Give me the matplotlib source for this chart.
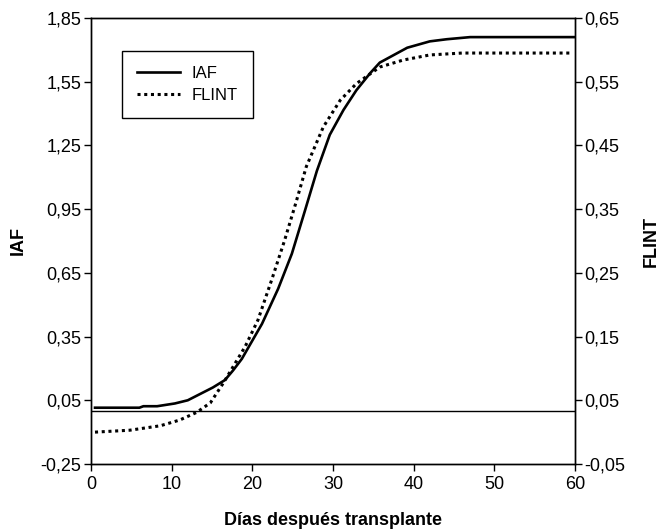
import matplotlib
matplotlib.use("Agg")
import matplotlib.pyplot as plt
from matplotlib.ticker import FuncFormatter

plt.rcParams['font.family'] = ['Liberation Sans', 'DejaVu Sans']

# IAF (left axis)
dias_iaf = [0.5, 6, 6.5, 8.2, 10.4, 12, 15.1, 16.6, 17.6, 18.7, 21.2, 23.2, 24.9,
            26.5, 28, 29.6, 31.3, 32.9, 34.6, 35.8, 39.2, 42, 44.1, 47, 60]
iaf = [0.015, 0.015, 0.022, 0.022, 0.035, 0.05, 0.11, 0.145, 0.19, 0.245, 0.41, 0.575, 0.74,
       0.94, 1.13, 1.3, 1.417, 1.51, 1.59, 1.64, 1.71, 1.74, 1.75, 1.76, 1.76]

# FLINT (right axis)
dias_flint = [0.5, 4.8, 8.6, 11, 13.1, 14.8, 16.4, 19.1, 20.7, 22.4, 24, 25.4,
              26.7, 28.8, 30.9, 32.9, 35.8, 38.7, 42, 46, 59.4]
flint = [0.0, 0.003, 0.01, 0.019, 0.031, 0.046, 0.077, 0.134, 0.176, 0.239, 0.301, 0.36,
         0.417, 0.479, 0.521, 0.547, 0.573, 0.584, 0.592, 0.595, 0.595]

iaf_ticks = [-0.25, 0.05, 0.35, 0.65, 0.95, 1.25, 1.55, 1.85]
flint_ticks = [-0.05, 0.05, 0.15, 0.25, 0.35, 0.45, 0.55, 0.65]
x_ticks = [0, 10, 20, 30, 40, 50, 60]

coma = FuncFormatter(lambda v, p: f"{v:.2f}".replace('.', ','))

fig = plt.figure(figsize=(6.65, 5.31), dpi=100)
ax = fig.add_axes([0.1368, 0.1262, 0.7279, 0.8399])
ax2 = ax.twinx()

l1, = ax.plot(dias_iaf, iaf, color='black', lw=1.9, label='IAF')
ax.axhline(0, color='black', lw=1.0)
l2, = ax2.plot(dias_flint, flint, color='black', lw=2.2, linestyle=(0, (1, 1.2)), label='FLINT')

ax.set_xlim(0, 60)
ax.set_ylim(-0.25, 1.85)
ax2.set_ylim(-0.05, 0.65)
ax.set_xticks(x_ticks)
ax.set_yticks(iaf_ticks)
ax2.set_yticks(flint_ticks)
ax.yaxis.set_major_formatter(coma)
ax2.yaxis.set_major_formatter(coma)

for a in (ax, ax2):
    a.tick_params(direction='out', length=5, width=1, labelsize=13, pad=2)
    for s in a.spines.values():
        s.set_linewidth(1.0)
ax.tick_params(axis='x', pad=4)

ax.set_xlabel("Días después transplante", fontsize=13, fontweight='bold', labelpad=13.5)
ax.set_ylabel("IAF", fontsize=13, fontweight='bold', labelpad=10)
ax2.set_ylabel("FLINT", fontsize=13, fontweight='bold', labelpad=12)

leg = ax.legend(handles=[l1, l2], loc='upper left', bbox_to_anchor=(0.064, 0.926),
                borderaxespad=0, fancybox=False, edgecolor='black', framealpha=1,
                fontsize=12, handlelength=2.6, handletextpad=0.7, borderpad=0.9,
                labelspacing=0.4)
leg.get_frame().set_linewidth(1.0)

fig.savefig("out.png", dpi=100)
